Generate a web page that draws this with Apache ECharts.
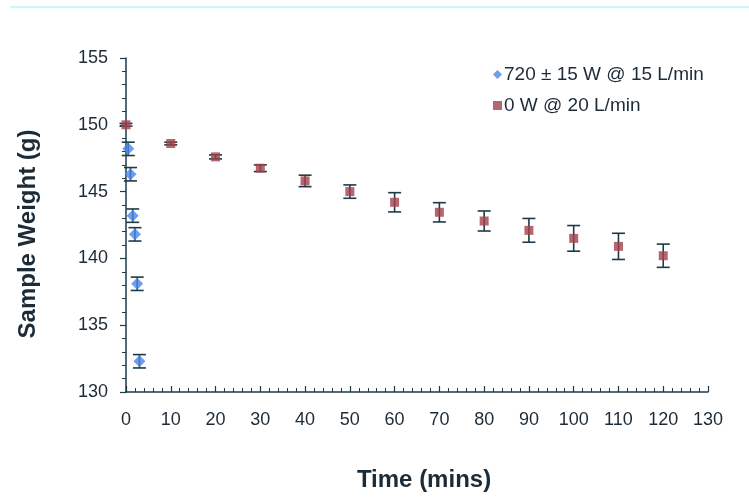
<!DOCTYPE html>
<html><head><meta charset="utf-8">
<script src="https://cdn.jsdelivr.net/npm/echarts@6/dist/echarts.min.js"></script>
<style>html,body{margin:0;padding:0;background:#fff}#c{width:749px;height:497px}</style>
</head><body><div id="c"></div>
<script>
var blueTime = [0.5, 1, 1.5, 2, 2.5, 3];
var blueWeight = [148.2, 146.3, 143.2, 141.8, 138.1, 132.3];
var blueErr = [0.5, 0.5, 0.5, 0.5, 0.5, 0.5];
var redTime = [0, 10, 20, 30, 40, 50, 60, 70, 80, 90, 100, 110, 120];
var redWeight = [150.0, 148.6, 147.6, 146.75, 145.8, 145.0, 144.2, 143.45, 142.8, 142.1, 141.5, 140.9, 140.2];
var redErr = [0.1, 0.1, 0.15, 0.25, 0.43, 0.5, 0.72, 0.72, 0.75, 0.89, 0.96, 0.98, 0.87];
var seriesNames = ['720 \u00b1 15 W @ 15 L/min', '0 W @ 20 L/min'];

function pairs(xs, ys){ return xs.map(function(x,i){return [x, ys[i]];}); }
function errData(xs, ys, es){ return xs.map(function(x,i){return [x, ys[i]-es[i], ys[i]+es[i]];}); }
function errRender(params, api){
  var x = api.value(0);
  var lo = api.coord([x, api.value(1)]);
  var hi = api.coord([x, api.value(2)]);
  var w = 6.5;
  var st = {stroke:'#1d3a48', lineWidth:1.6};
  return {type:'group', children:[
    {type:'line', shape:{x1:lo[0],y1:lo[1],x2:hi[0],y2:hi[1]}, style:st},
    {type:'line', shape:{x1:lo[0]-w,y1:lo[1],x2:lo[0]+w,y2:lo[1]}, style:st},
    {type:'line', shape:{x1:hi[0]-w,y1:hi[1],x2:hi[0]+w,y2:hi[1]}, style:st}
  ]};
}
var txt = '#1c2b38', axc = '#1d3a48';
var chart = echarts.init(document.getElementById('c'));
chart.setOption({
  animation:false,
  textStyle:{fontFamily:'Liberation Sans, Arial, sans-serif'},
  graphic:[{type:'line', shape:{x1:10,y1:7,x2:749,y2:7}, style:{stroke:'#bff3f8', lineWidth:1.5}}],
  grid:{left:126, right:41, top:58, bottom:102},
  legend:{orient:'vertical', left:488, top:60, itemGap:12, itemWidth:9, itemHeight:9,
    textStyle:{fontSize:19, color:txt, fontFamily:'Liberation Sans, Arial, sans-serif', padding:[0,0,0,-3]},
    data:[{name:seriesNames[0], icon:'diamond'},{name:seriesNames[1], icon:'rect'}]},
  xAxis:{type:'value', min:0, max:130, interval:10,
    name:'Time (mins)', nameLocation:'middle', nameGap:76,
    nameTextStyle:{fontSize:24, fontWeight:'bold', color:txt, padding:[0,0,0,14]},
    axisLine:{lineStyle:{color:axc, width:1.5}},
    axisTick:{inside:true, length:6, lineStyle:{color:axc, width:1.2}},
    minorTick:{show:true, splitNumber:5, length:4, lineStyle:{color:axc, width:1}},
    axisLabel:{fontSize:18, color:txt, margin:19},
    splitLine:{show:false}},
  yAxis:{type:'value', min:130, max:155, interval:5,
    name:'Sample Weight (g)', nameLocation:'middle', nameGap:86,
    nameTextStyle:{fontSize:24, fontWeight:'bold', color:txt, padding:[0,18,0,0]},
    axisLine:{show:true, lineStyle:{color:axc, width:1.5}},
    axisTick:{show:true, inside:false, length:6, lineStyle:{color:axc, width:1.2}},
    minorTick:{show:true, splitNumber:5, length:4, lineStyle:{color:axc, width:1}},
    axisLabel:{fontSize:18, color:txt, margin:18},
    splitLine:{show:false}},
  series:[
    {name:seriesNames[0], type:'scatter', symbol:'diamond', symbolSize:12, z:3,
     itemStyle:{color:'#4a86e8'}, data:pairs(blueTime, blueWeight)},
    {name:seriesNames[1], type:'scatter', symbol:'rect', symbolSize:9, z:3,
     itemStyle:{color:'#a3414c'}, data:pairs(redTime, redWeight)},
    {type:'custom', renderItem:errRender, z:2, silent:true, encode:{x:0, y:[1,2]},
     data:errData(blueTime, blueWeight, blueErr)},
    {type:'custom', renderItem:errRender, z:2, silent:true, encode:{x:0, y:[1,2]},
     data:errData(redTime, redWeight, redErr)}
  ]
});
</script></body></html>
